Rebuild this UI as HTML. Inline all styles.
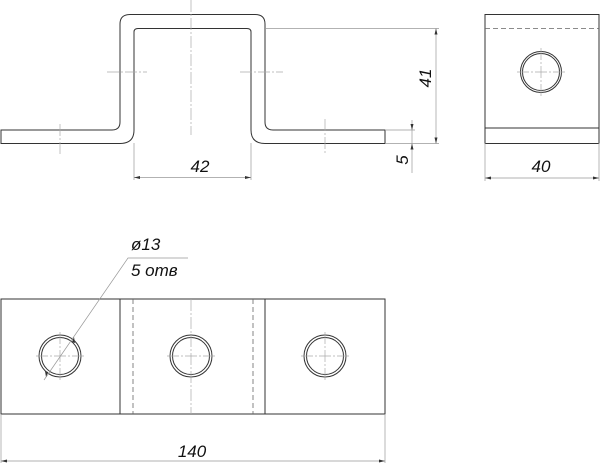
<!DOCTYPE html>
<html><head><meta charset="utf-8"><style>html,body{margin:0;padding:0;background:#fff}svg{display:block}</style></head>
<body>
<svg width="600" height="464" viewBox="0 0 600 464" xmlns="http://www.w3.org/2000/svg" font-family="Liberation Sans, DejaVu Sans, sans-serif" font-style="italic">
<g fill="none" stroke="#333" stroke-width="1">
<path d="M1 130 H112 Q120 130 120 122 V24 Q120 14.5 130 14.5 H255 Q265 14.5 265 24 V122 Q265 130 273 130 H385 V143.5 H265 Q251 143.5 251 130 V32 Q251 28.5 247 28.5 H138 Q134 28.5 134 32 V130 Q134 143.5 120 143.5 H1 Z"/>
<rect x="485" y="14.5" width="114" height="129"/>
<line x1="485" y1="128" x2="599" y2="128"/>
<circle cx="541" cy="72" r="20.5"/><circle cx="541" cy="72" r="18.5"/>
<rect x="1" y="299" width="384" height="115"/>
<line x1="120" y1="299" x2="120" y2="414"/>
<line x1="265" y1="299" x2="265" y2="414"/>
<circle cx="60" cy="356" r="21"/><circle cx="60" cy="356" r="18.5"/>
<circle cx="191" cy="356" r="21"/><circle cx="191" cy="356" r="18.5"/>
<circle cx="325" cy="356" r="21"/><circle cx="325" cy="356" r="18.5"/>
</g>
<g fill="none" stroke="#666" stroke-width="0.8" stroke-dasharray="5 3">
<line x1="485" y1="28.5" x2="599" y2="28.5"/>
<line x1="133" y1="299" x2="133" y2="414"/>
<line x1="253" y1="299" x2="253" y2="414"/>
</g>
<g fill="none" stroke="#aaa" stroke-width="0.7" stroke-dasharray="12 2 2 2">
<line x1="191" y1="0" x2="191" y2="135"/>
<line x1="107" y1="72" x2="147" y2="72"/>
<line x1="240" y1="72" x2="283" y2="72"/>
<line x1="60" y1="124" x2="60" y2="155"/>
<line x1="325" y1="119" x2="325" y2="153"/>
<line x1="541" y1="48" x2="541" y2="96"/>
<line x1="517" y1="72" x2="565" y2="72"/>
<line x1="191" y1="299" x2="191" y2="414"/>
<line x1="36" y1="356" x2="84" y2="356"/><line x1="60" y1="332" x2="60" y2="380"/>
<line x1="167" y1="356" x2="215" y2="356"/>
<line x1="301" y1="356" x2="349" y2="356"/><line x1="325" y1="332" x2="325" y2="380"/>
</g>
<g fill="none" stroke="#999" stroke-width="0.7">
<line x1="265" y1="28.5" x2="439" y2="28.5"/>
<line x1="385" y1="143.5" x2="439" y2="143.5"/>
<line x1="436" y1="28.5" x2="436" y2="143.5"/>
<line x1="385" y1="130" x2="415" y2="130"/>
<line x1="412" y1="120" x2="412" y2="173"/>
<line x1="134" y1="143" x2="134" y2="180"/>
<line x1="251" y1="143" x2="251" y2="180"/>
<line x1="134" y1="177.5" x2="251" y2="177.5"/>
<line x1="485" y1="143" x2="485" y2="181"/>
<line x1="599" y1="143" x2="599" y2="181"/>
<line x1="485" y1="178" x2="599" y2="178"/>
<line x1="1" y1="414" x2="1" y2="463"/>
<line x1="385" y1="414" x2="385" y2="463"/>
<line x1="1" y1="461" x2="385" y2="461"/>
<polyline points="44,380 128,258 188,258"/>
</g>
<g fill="#333">
<path d="M436 28.5 l-1.5 6 h3z M436 143.5 l-1.5 -6 h3z"/>
<path d="M412 130 l-1.5 -6 h3z M412 143.5 l-1.5 6 h3z"/>
<path d="M134 177.5 l6 -1.5 v3z M251 177.5 l-6 -1.5 v3z"/>
<path d="M485 178 l6 -1.5 v3z M599 178 l-6 -1.5 v3z"/>
<path d="M1 461 l6 -1.5 v3z M385 461 l-6 -1.5 v3z"/>
<path d="M74 337 l-2 5 l3 1z M46 377 l2 -5 l-3 -1z"/>
</g>
<g fill="#111" font-size="17">
<text x="200" y="172" text-anchor="middle">42</text>
<text x="541" y="172" text-anchor="middle">40</text>
<text x="192" y="457" text-anchor="middle">140</text>
<text transform="translate(431,78) rotate(-90)" text-anchor="middle">41</text>
<text transform="translate(408,160) rotate(-90)" text-anchor="middle">5</text>
<text x="131" y="250">ø13</text>
<text x="131" y="276">5 отв</text>
</g>
</svg>
</body></html>
